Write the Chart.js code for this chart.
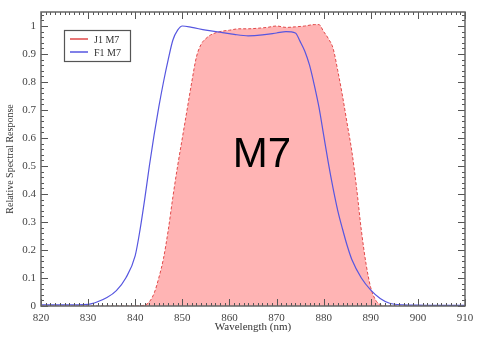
<!DOCTYPE html>
<html>
<head>
<meta charset="utf-8">
<script src="https://cdn.jsdelivr.net/npm/chart.js@4/dist/chart.umd.min.js"></script>
<style>
  html, body { margin: 0; padding: 0; background: #fff; }
  #grafico { display: block; }
</style>
</head>
<body>
<canvas id="grafico" width="481" height="337"></canvas>
<script>
// dados
const nomesSeries = ["J1 M7", "F1 M7"];
const coresSeries = ["#e04848", "#5656e0"];
const rotuloBanda = "M7";

const j1Comprimento = [820, 840, 842, 843, 844, 845, 846, 847, 848, 849, 850, 851, 852, 853, 854, 855, 856, 858, 860, 862, 864, 866, 868, 870, 872, 874, 876, 878, 879, 880, 881, 882, 883, 884, 885, 886, 887, 888, 889, 890, 891, 892, 893, 895, 910];
const j1Resposta    = [0, 0, 0.003, 0.015, 0.045, 0.1, 0.17, 0.27, 0.39, 0.5, 0.6, 0.7, 0.8, 0.89, 0.935, 0.955, 0.968, 0.98, 0.985, 0.99, 0.99, 0.992, 0.995, 1.0, 0.995, 0.997, 1.0, 1.005, 1.005, 0.98, 0.955, 0.92, 0.84, 0.75, 0.65, 0.55, 0.42, 0.27, 0.15, 0.065, 0.022, 0.005, 0, 0, 0];

const f1Comprimento = [820, 825, 830, 832, 834, 836, 838, 840, 841, 842, 843, 844, 845, 846, 847, 848, 849, 850, 852, 855, 858, 861, 864, 867, 870, 872, 874, 875, 876, 877, 878, 879, 880, 881, 882, 883, 884, 885, 886, 888, 890, 892, 894, 897, 900, 905, 910];
const f1Resposta    = [0.004, 0.004, 0.006, 0.015, 0.03, 0.055, 0.1, 0.18, 0.27, 0.38, 0.5, 0.61, 0.71, 0.8, 0.88, 0.95, 0.985, 1.0, 0.995, 0.985, 0.978, 0.97, 0.965, 0.968, 0.975, 0.98, 0.975, 0.945, 0.91, 0.86, 0.79, 0.71, 0.61, 0.51, 0.42, 0.34, 0.275, 0.215, 0.165, 0.1, 0.057, 0.027, 0.01, 0.004, 0.003, 0.002, 0.002];

const ticksX = [820, 830, 840, 850, 860, 870, 880, 890, 900, 910];
const ticksY = [0, 0.1, 0.2, 0.3, 0.4, 0.5, 0.6, 0.7, 0.8, 0.9, 1];

const fonteSerif = "'Liberation Serif', 'DejaVu Serif', serif";

const pontos = (xs, ys) => xs.map((x, i) => ({ x: x, y: ys[i] }));

// caixa, tracinhos internos, legenda e rotulo M7
const moldura = {
  id: "moldura",
  afterDraw(chart) {
    const { ctx, chartArea: a, scales } = chart;
    const sx = scales.x, sy = scales.y;
    ctx.save();
    ctx.strokeStyle = "#555";
    ctx.lineWidth = 1;
    ctx.beginPath();
    for (let v = 820; v <= 910; v++) {
      const p = Math.round(sx.getPixelForValue(v)) + 0.5;
      const len = v % 10 === 0 ? 7 : 3;
      ctx.moveTo(p, a.bottom); ctx.lineTo(p, a.bottom - len);
      ctx.moveTo(p, a.top); ctx.lineTo(p, a.top + len);
    }
    for (let k = 0; k <= 52; k++) {
      const v = k * 0.02;
      const p = Math.round(sy.getPixelForValue(v)) + 0.5;
      const len = k % 5 === 0 ? 7 : 3;
      ctx.moveTo(a.left, p); ctx.lineTo(a.left + len, p);
      ctx.moveTo(a.right, p); ctx.lineTo(a.right - len, p);
    }
    ctx.stroke();
    ctx.lineWidth = 1.5;
    ctx.strokeStyle = "#666";
    ctx.strokeRect(a.left, a.top, a.right - a.left, a.bottom - a.top);

    // legenda
    ctx.lineWidth = 1.2;
    ctx.strokeStyle = "#555";
    ctx.strokeRect(64.5, 30.5, 66, 31);
    ctx.font = "10px " + fonteSerif;
    ctx.textBaseline = "middle";
    ctx.fillStyle = "#333";
    nomesSeries.forEach((nome, i) => {
      const y = 39 + i * 13;
      ctx.strokeStyle = coresSeries[i];
      ctx.lineWidth = 1.5;
      ctx.beginPath();
      ctx.moveTo(70, y); ctx.lineTo(88, y);
      ctx.stroke();
      ctx.fillText(nome, 94, y + 1);
    });

    // rotulo da banda
    ctx.font = "42px 'Liberation Sans', Arial, sans-serif";
    ctx.textAlign = "center";
    ctx.textBaseline = "alphabetic";
    ctx.fillStyle = "#000";
    ctx.fillText(rotuloBanda, 262, 167);
    ctx.restore();
  }
};

new Chart(document.getElementById("grafico"), {
  type: "line",
  data: {
    datasets: [
      {
        label: nomesSeries[0],
        data: pontos(j1Comprimento, j1Resposta),
        borderColor: coresSeries[0],
        borderWidth: 1,
        borderDash: [3, 2],
        backgroundColor: "rgba(255, 140, 140, 0.65)",
        fill: "origin",
        pointRadius: 0,
        cubicInterpolationMode: "monotone",
        order: 2
      },
      {
        label: nomesSeries[1],
        data: pontos(f1Comprimento, f1Resposta),
        borderColor: coresSeries[1],
        borderWidth: 1.2,
        fill: false,
        pointRadius: 0,
        cubicInterpolationMode: "monotone",
        order: 1
      }
    ]
  },
  options: {
    responsive: false,
    animation: false,
    layout: { padding: { top: 12, right: 16, left: 0, bottom: 0 } },
    plugins: {
      legend: { display: false },
      tooltip: { enabled: false }
    },
    scales: {
      x: {
        type: "linear",
        min: 820,
        max: 910,
        afterFit: s => { s.height = 31; },
        afterBuildTicks: s => { s.ticks = ticksX.map(v => ({ value: v })); },
        grid: { display: false, drawTicks: false },
        border: { display: false },
        ticks: {
          color: "#444",
          padding: 6,
          maxRotation: 0,
          font: { family: fonteSerif, size: 11 }
        },
        title: {
          display: true,
          text: "Wavelength (nm)",
          color: "#333",
          padding: { top: 0, bottom: 3 },
          font: { family: fonteSerif, size: 11 }
        }
      },
      y: {
        min: 0,
        max: 1.05,
        afterFit: s => { s.width = 41; },
        afterBuildTicks: s => { s.ticks = ticksY.map(v => ({ value: v })); },
        grid: { display: false, drawTicks: false },
        border: { display: false },
        ticks: {
          color: "#444",
          padding: 5,
          font: { family: fonteSerif, size: 11 },
          callback: v => String(Math.round(v * 10) / 10)
        },
        title: {
          display: true,
          text: "Relative Spectral Response",
          color: "#333",
          padding: { top: 4, bottom: 0 },
          font: { family: fonteSerif, size: 10 }
        }
      }
    }
  },
  plugins: [moldura]
});
</script>
</body>
</html>
